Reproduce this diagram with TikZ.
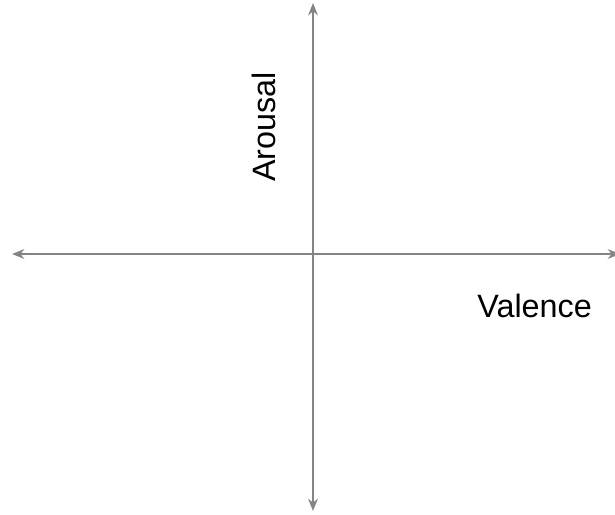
\documentclass[tikz,border=0pt]{standalone}
\usepackage{fontspec}
\setmainfont{Liberation Sans}
\usepackage{tikz}
\usetikzlibrary{arrows.meta, positioning}
\definecolor{axisgray}{RGB}{132,132,132}

\begin{document}
\begin{tikzpicture}[x=0.02cm, y=-0.02cm,
    axis/.style={draw=axisgray, line width=1pt, {Stealth[length=7pt,width=5.5pt]}-{Stealth[length=7pt,width=5.5pt]}},
    axislabel/.style={font=\fontsize{18.4}{20}\selectfont, inner sep=0pt}]
    \useasboundingbox (0,0) rectangle (615,514);

    % Axis ends
    \coordinate (west) at (12,254);
    \coordinate (east) at (620,254);
    \coordinate (north) at (313,3);
    \coordinate (south) at (313,511);

    % Axes
    \draw[axis] (west) -- (east);
    \draw[axis] (north) -- (south);

    % Labels
    \node[axislabel, anchor=base west] (valence) at (477,317) {Valence};
    \node[axislabel, anchor=base west, rotate=90] (arousal) at (275,182) {Arousal};
\end{tikzpicture}
\end{document}
